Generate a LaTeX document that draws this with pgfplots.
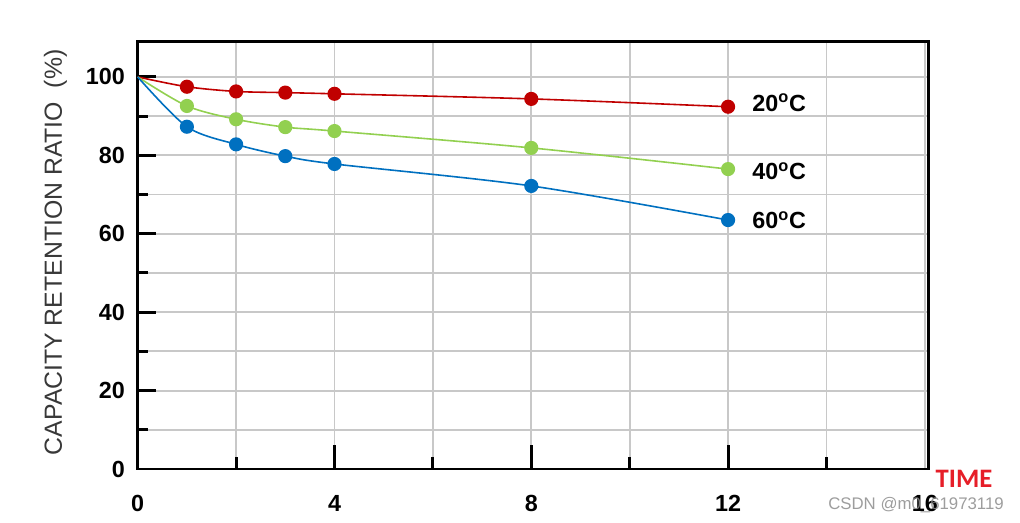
\documentclass[border=0pt]{standalone}
\usepackage{pgfplots}
\pgfplotsset{compat=1.18}
\usepackage{pgfplotstable}
\usepackage{fontspec}
\setmainfont{Liberation Sans}
\newfontfamily\carlito{Carlito}
\definecolor{cred}{RGB}{192,0,0}
\definecolor{cgreen}{RGB}{146,208,80}
\definecolor{cblue}{RGB}{0,112,192}
\definecolor{cgrid}{RGB}{200,200,200}
\definecolor{ctime}{RGB}{230,30,40}
\pgfplotstableread{
t r20 r40 r60
0 100 100 100
1 97.5 92.6 87.3
2 96.3 89.2 82.8
3 96.0 87.2 79.8
4 95.7 86.2 77.8
8 94.4 81.9 72.2
12 92.4 76.5 63.5
}\datatab
\pgfplotsset{frame/.style={
  at={(103.275pt,40.5pt)}, anchor=south west,
  scale only axis, width=592.95pt, height=320.5pt,
  xmin=0, xmax=16.07, ymin=0, ymax=109,
  tick align=inside, xtick pos=bottom, ytick pos=left,
  tick style={black, line width=2.2pt},
  clip=false}}
\begin{document}
\begin{tikzpicture}
\path[use as bounding box] (0,0) rectangle (765pt,392.25pt);
\begin{axis}[frame,
  xtick={0,4,8,12,16}, minor xtick={2,6,10,14},
  ytick={0,20,40,60,80,100}, minor ytick={10,30,50,70,90},
  grid=both,
  major grid style={cgrid, line width=1.4pt},
  minor grid style={cgrid, line width=1.4pt},
  axis line style={black, line width=2.2pt},
  xtick style={draw=none},
  major tick length=14pt, minor tick length=7.5pt,
  /pgf/number format/assume math mode=true,
  ticklabel style={font=\fontsize{17.5}{20}\selectfont\bfseries, inner sep=0pt},
  xticklabel style={anchor=north, yshift=-19.5pt},
  yticklabel style={anchor=east, xshift=-9.5pt},
]
\addplot[cred, line width=1.2pt, smooth, mark=*, mark size=4.7pt, mark indices={2,3,4,5,6,7}, mark options={solid, fill=cred, draw=cred}] table[x=t,y=r20] {\datatab};
\addplot[cgreen, line width=1.2pt, smooth, mark=*, mark size=4.7pt, mark indices={2,3,4,5,6,7}, mark options={solid, fill=cgreen, draw=cgreen}] table[x=t,y=r40] {\datatab};
\addplot[cblue, line width=1.2pt, smooth, mark=*, mark size=4.7pt, mark indices={2,3,4,5,6,7}, mark options={solid, fill=cblue, draw=cblue}] table[x=t,y=r60] {\datatab};
\node[anchor=west, inner sep=0pt, font=\fontsize{17.5}{20}\selectfont\bfseries] at (axis cs:12.49,93.4) {20\textsuperscript{o}C};
\node[anchor=west, inner sep=0pt, font=\fontsize{17.5}{20}\selectfont\bfseries] at (axis cs:12.49,75.9) {40\textsuperscript{o}C};
\node[anchor=west, inner sep=0pt, font=\fontsize{17.5}{20}\selectfont\bfseries] at (axis cs:12.49,63.5) {60\textsuperscript{o}C};
\end{axis}
\begin{axis}[frame,
  axis line style={draw=none},
  xtick={4,8,12}, minor xtick={2,6,10,14}, xticklabels={},
  ytick=\empty,
  major tick length=18pt, minor tick length=9pt,
]
\end{axis}
\node[rotate=90, inner sep=0pt, text=black!78, font=\fontsize{18.6}{20}\selectfont] at (41.5pt,203pt) {CAPACITY RETENTION RATIO\ \ (\%)};
\node[inner sep=0pt, text=ctime, font=\carlito\fontsize{20}{22}\selectfont\bfseries] at (723pt,33pt) {TIME};
\node[anchor=west, inner sep=0pt, text=black!45, opacity=0.85, font=\fontsize{12.6}{14}\selectfont] at (621pt,13.5pt) {CSDN @m0\_61973119};
\end{tikzpicture}
\end{document}
